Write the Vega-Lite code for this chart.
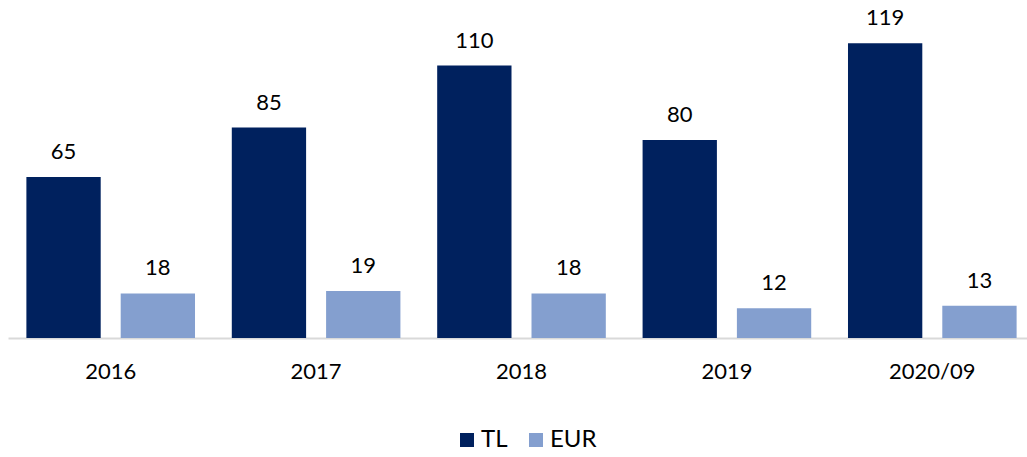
{
  "$schema": "https://vega.github.io/schema/vega-lite/v6.json",
  "width": 1019,
  "height": 338,
  "autosize": {"type": "none"},
  "padding": {"left": 8, "top": 0, "right": 0, "bottom": 119},
  "background": "white",
  "config": {
    "view": {"stroke": null},
    "font": "Lato",
    "text": {"font": "Lato"}
  },
  "data": {
    "values": [
      {"period": "2016", "series": "TL", "value": 65},
      {"period": "2016", "series": "EUR", "value": 18},
      {"period": "2017", "series": "TL", "value": 85},
      {"period": "2017", "series": "EUR", "value": 19},
      {"period": "2018", "series": "TL", "value": 110},
      {"period": "2018", "series": "EUR", "value": 18},
      {"period": "2019", "series": "TL", "value": 80},
      {"period": "2019", "series": "EUR", "value": 12},
      {"period": "2020/09", "series": "TL", "value": 119},
      {"period": "2020/09", "series": "EUR", "value": 13}
    ]
  },
  "encoding": {
    "x": {
      "field": "period",
      "type": "nominal",
      "sort": null,
      "scale": {"range": [0, 1027], "paddingInner": 0, "paddingOuter": 0},
      "axis": {
        "title": null,
        "labelAngle": 0,
        "ticks": false,
        "labelFont": "Lato",
        "labelFontSize": 22,
        "labelColor": "#000000",
        "labelBaseline": "alphabetic",
        "labelPadding": 40,
        "domainColor": "#d9d9d9",
        "domainWidth": 2,
        "grid": false
      }
    },
    "xOffset": {
      "field": "series",
      "type": "nominal",
      "sort": ["TL", "EUR"],
      "scale": {"paddingInner": 0.212, "paddingOuter": 0.195}
    },
    "y": {
      "field": "value",
      "type": "quantitative",
      "scale": {"domain": [0, 136.5], "nice": false, "zero": true},
      "axis": null
    }
  },
  "layer": [
    {
      "mark": {"type": "bar"},
      "encoding": {
        "color": {
          "field": "series",
          "type": "nominal",
          "sort": ["TL", "EUR"],
          "scale": {"domain": ["TL", "EUR"], "range": ["#00215E", "#849FCF"]},
          "legend": {
            "title": null,
            "orient": "none",
            "direction": "horizontal",
            "legendX": 447,
            "legendY": 428,
            "symbolType": "square",
            "symbolSize": 196,
            "symbolStrokeWidth": 0,
            "labelFont": "Lato",
            "labelFontSize": 24,
            "labelColor": "#000000",
            "labelOffset": 2,
            "columnPadding": 16
          }
        }
      }
    },
    {
      "mark": {"type": "text", "baseline": "alphabetic", "dy": -18, "fontSize": 22, "color": "#000000"},
      "encoding": {
        "text": {"field": "value", "type": "quantitative"}
      }
    }
  ]
}
